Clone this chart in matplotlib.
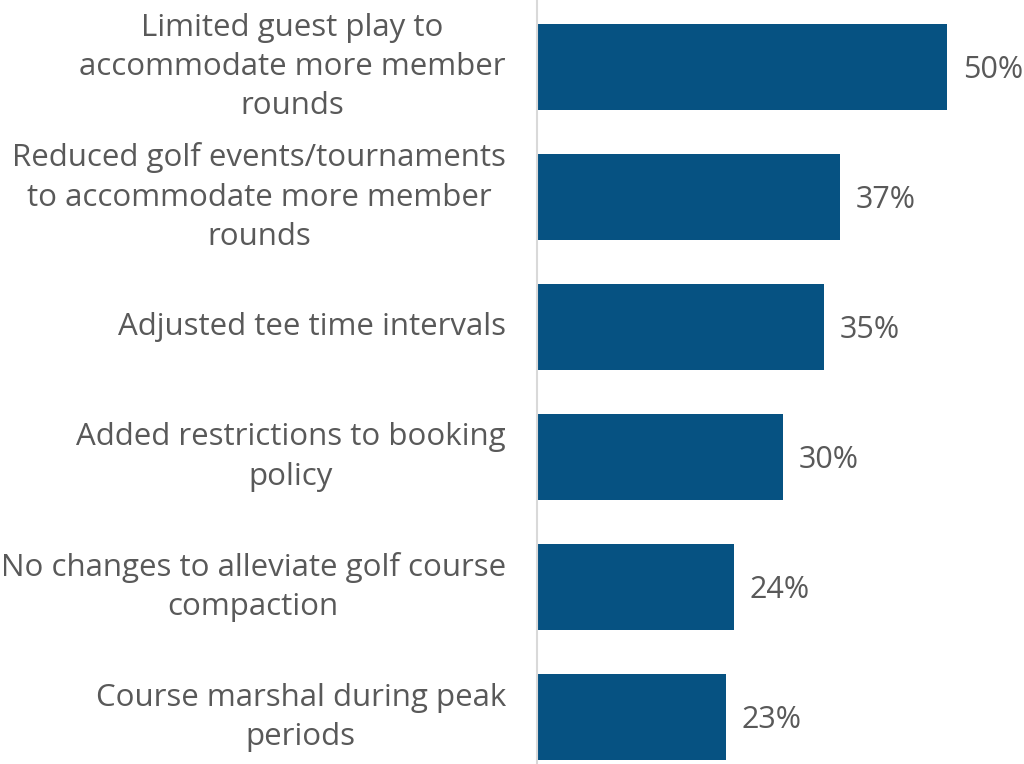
import matplotlib
matplotlib.use("Agg")
import matplotlib.pyplot as plt

# survey responses, top to bottom
labels = [
    "Limited guest play to\naccommodate more member\nrounds",
    "Reduced golf events/tournaments\nto accommodate more member\nrounds",
    "Adjusted tee time intervals",
    "Added restrictions to booking\npolicy",
    "No changes to alleviate golf course\ncompaction",
    "Course marshal during peak\nperiods",
]
values = [50, 37, 35, 30, 24, 23]

bar_color = "#065282"
text_color = "#595959"

plt.rcParams['font.family'] = ['Open Sans', 'DejaVu Sans']

fig = plt.figure(figsize=(10.24, 7.64), dpi=100)
ax = fig.add_axes([537/1024, 0, 487/1024, 1])

pos = list(range(len(values)))
ax.barh(pos, values, height=0.66, color=bar_color)

ax.set_xlim(0, 487/8.2)
ax.set_ylim(5.36, -0.515)

for p, v in zip(pos, values):
    ax.text(v + 1.9, p + 0.02, "%d%%" % v, va='center', ha='left',
            fontsize=22, color=text_color)

for p, lab in zip(pos, labels):
    ax.text(-3.8, p, lab, va='center', ha='right', multialignment='center',
            fontsize=22.5, color=text_color, linespacing=1.4)

for s in ['top', 'right', 'bottom']:
    ax.spines[s].set_visible(False)
ax.spines['left'].set_color('#d9d9d9')
ax.spines['left'].set_linewidth(1.5)
ax.set_xticks([])
ax.set_yticks([])

fig.savefig('out.png', dpi=100)
